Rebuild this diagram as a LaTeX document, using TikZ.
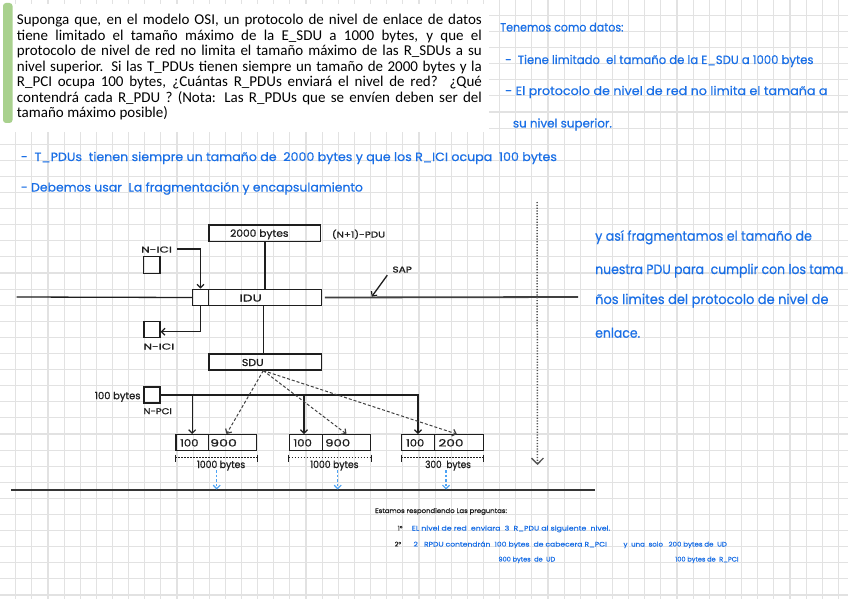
\documentclass[tikz,border=0pt]{standalone}
\usepackage{fontspec}
\setmainfont{Carlito}
\newfontfamily\hand{Poppins}[FakeBold=0.5]
\newfontfamily\handk{Poppins}[FakeBold=0.9]
\usetikzlibrary{arrows.meta}
\definecolor{gridc}{HTML}{E2E2E2}
\definecolor{inkc}{HTML}{1E1E1E}
\definecolor{bluetxt}{HTML}{1A6FE6}
\definecolor{bluearr}{HTML}{4DA3F5}
\definecolor{barc}{HTML}{A9D18E}
\newcommand\fitw[2]{\resizebox{#1pt}{\height}{#2}}
\tikzset{
  gridline/.style={draw=gridc, line width=1.1pt},
  box/.style={draw=inkc, line width=1.3pt, inner sep=0pt, minimum height=16pt},
  lbl/.style={inner sep=0pt, anchor=west, text height=0.7em, text depth=0pt, text=inkc, font=\handk\fontsize{10}{11}\selectfont},
  smlbl/.style={lbl, font=\handk\fontsize{8.5}{10}\selectfont},
  conn/.style={draw=inkc, line width=1.3pt},
  tip/.style={-{Straight Barb[length=3.5pt,width=7pt,line width=1.2pt]}},
  mainline/.style={draw=inkc!85, line width=1.8pt},
  dasharr/.style={draw=inkc!85, line width=1pt, dash pattern=on 3pt off 2pt, tip},
  dimline/.style={draw=inkc, line width=1pt, dash pattern=on 1.5pt off 1.5pt},
  tick/.style={draw=inkc, line width=1pt},
  bluedash/.style={draw=bluearr, line width=1.1pt, dash pattern=on 2.5pt off 2pt, -{Straight Barb[length=3.5pt,width=7pt,line width=1.2pt]}},
  dotarr/.style={draw=inkc!75, line width=1.5pt, dash pattern=on 1.2pt off 1.6pt, -{Straight Barb[length=6pt,width=12pt,line width=1.3pt]}},
  botline/.style={draw=inkc!90, line width=2pt},
  bt/.style={inner sep=0pt, anchor=base west, text=bluetxt, font=\hand\fontsize{12}{14}\selectfont},
  btbig/.style={bt, font=\hand\fontsize{13.5}{16}\selectfont},
  bts/.style={bt, font=\hand\fontsize{6.5}{8}\selectfont},
  kts/.style={bts, text=inkc},
  prob/.style={inner sep=0pt, anchor=base west, text=black, font=\fontsize{15}{15.4}\selectfont}
}
\begin{document}
\begin{tikzpicture}[x=1pt,y=-1pt]
\useasboundingbox (0,0) rectangle (848,599);
\fill[white] (0,0) rectangle (848,599);
% grid
\foreach \i in {0,...,51} \draw[gridline] ({15.7+16.13*\i},0) -- ({15.7+16.13*\i},599);
\foreach \j in {0,...,36} \draw[gridline] (0,{15.4+16.1*\j}) -- (848,{15.4+16.1*\j});

% problem statement box
\fill[white] (0,4) rectangle (489,132);
\fill[barc, rounded corners=3pt] (3,3) rectangle (12.5,123);
\node[prob] (p1) at (16.7,25) {\makebox[465pt][s]{Suponga que, en el modelo OSI, un protocolo de nivel de enlace de datos}};
\node[prob] (p2) at (16.7,40.4) {\makebox[465pt][s]{tiene limitado el tamaño máximo de la E\_SDU a 1000 bytes, y que el}};
\node[prob] (p3) at (16.7,55.9) {\makebox[465pt][s]{protocolo de nivel de red no limita el tamaño máximo de las R\_SDUs a su}};
\node[prob] (p4) at (16.7,71.3) {\makebox[465pt][s]{nivel superior. Si las T\_PDUs tienen siempre un tamaño de 2000 bytes y la}};
\node[prob] (p5) at (16.7,86.8) {\makebox[465pt][s]{R\_PCI ocupa 100 bytes, ¿Cuántas R\_PDUs enviará el nivel de red? ¿Qué}};
\node[prob] (p6) at (16.7,102.2) {\makebox[465pt][s]{contendrá cada R\_PDU ? (Nota: Las R\_PDUs que se envíen deben ser del}};
\node[prob] (p7) at (16.7,117.7) {tamaño máximo posible)};

% blue notes top right
\node[bt] (n1) at (500,31.5) {\fitw{123.3}{Tenemos como datos:}};
\node[bt] (n2) at (505,64) {\fitw{308.3}{-\ \ Tiene limitado\ \ el tamaño de la E\_SDU a 1000 bytes}};
\node[bt] (n3) at (505,95) {\fitw{322.3}{- El protocolo de nivel de red no limita el tamaña a}};
\node[bt] (n4) at (512.7,127.5) {\fitw{99}{su nivel superior.}};
\node[bt] (n5) at (20.7,161) {\fitw{536}{-\ \ T\_PDUs\ \ tienen siempre un tamaño de\ \ 2000 bytes y que los R\_ICI ocupa\ \ 100 bytes}};
\node[bt] (n6) at (20.7,191.5) {\fitw{342}{- Debemos usar\ \ La fragmentación y encapsulamiento}};
\node[btbig] (r1) at (595,240.7) {\fitw{216.7}{y así fragmentamos el tamaño de}};
\node[btbig] (r2) at (595,274) {\fitw{248.3}{nuestra PDU para\ \ cumplir con los tama}};
\node[btbig] (r3) at (595,304) {\fitw{233.3}{ños limites del protocolo de nivel de}};
\node[btbig] (r4) at (595,337.7) {\fitw{45}{enlace.}};

% upper part of diagram
\node[box, minimum width=111.7, minimum height=16.7] (b2000) at (264.9,233.3) {};
\node[lbl] (t2000) at (230,233.3) {\fitw{58.3}{2000 bytes}};
\node[smlbl] (npdu) at (331.7,234) {\fitw{53.3}{(N+1)-PDU}};
\node[box, minimum width=15.6, minimum height=16.4] (idul) at (200.5,297.5) {};
\node[box, minimum width=113.4, minimum height=16.4] (idur) at (265,297.5) {};
\node[lbl] (tidu) at (239.3,298) {\fitw{22.3}{IDU}};
\node[box, minimum width=112.7, minimum height=16] (sdu) at (265.3,362) {};
\node[lbl] (tsdu) at (241.7,362.5) {\fitw{21.7}{SDU}};
\node[box, minimum size=16.7] (icitop) at (151.7,265) {};
\node[smlbl] (icitoplbl) at (141,249) {\fitw{30.7}{N-ICI}};
\node[box, minimum size=16] (icibot) at (152,329.7) {};
\node[smlbl] (icibotlbl) at (143.3,346) {\fitw{30.7}{N-ICI}};
\node[smlbl] (sap) at (392.3,269) {\fitw{19.4}{SAP}};
\coordinate (sapPt) at (371.7,296.7);
\coordinate (Lend) at (16.7,297);
\coordinate (Rend) at (578,297);

\draw[conn] (Lend) -- (idul.west);
\draw[mainline] ([xshift=2.6pt]idur.east) -- (Rend);
\draw[conn] (b2000.south) -- (b2000.south |- idur.north);
\draw[conn] ([xshift=-1.7pt]idur.south) -- ([xshift=-1.7pt]idur.south |- sdu.north);
\draw[conn, tip] ([xshift=5pt]icitoplbl.east) -| (idul.north);
\draw[conn, tip] (idul.south) |- ([yshift=-2pt]icibot.east);
\draw[conn, tip] ([shift={(-5,2.5)}]sap.south west) -- (sapPt);

% lower part
\node[box, minimum size=16] (pci) at (152,395) {};
\node[lbl, anchor=east] (pcisize) at (140.7,395.7) {\fitw{45.7}{100 bytes}};
\node[smlbl] (pcilbl) at (143.3,410.7) {\fitw{28.3}{N-PCI}};

\node[box, minimum width=32.3] (f1a) at (192.15,442.7) {};
\node[box, minimum width=48.4] (f1b) at (232.5,442.7) {};
\node[box, minimum width=33] (f2a) at (305.8,442.7) {};
\node[box, minimum width=48.4] (f2b) at (346.5,442.7) {};
\node[box, minimum width=32.6] (f3a) at (418,442.7) {};
\node[box, minimum width=49] (f3b) at (458.8,442.7) {};
\node[lbl] (x1a) at (180,443) {\fitw{18.3}{100}};
\node[lbl] (x1b) at (210,443) {\fitw{26.7}{900}};
\node[lbl] (x2a) at (293.3,443) {\fitw{18.4}{100}};
\node[lbl] (x2b) at (325,443) {\fitw{25}{900}};
\node[lbl] (x3a) at (406,443) {\fitw{18}{100}};
\node[lbl] (x3b) at (438.3,443) {\fitw{25}{200}};

\draw[conn, tip] (pci.east) -| (f3a.north);
\draw[conn, tip] (f1a.north |- pci.east) -- (f1a.north);
\draw[conn, tip] ([xshift=-1.8pt]f2a.north |- pci.east) -- ([xshift=-1.8pt]f2a.north);

\draw[dasharr] ([xshift=-2pt]sdu.south) -- ([xshift=-6pt]f1b.north);
\draw[dasharr] ([xshift=-2pt]sdu.south) -- (f2b.north);
\draw[dasharr] ([xshift=-2pt]sdu.south) -- ([xshift=-2pt]f3b.north);

% dimension lines
\draw[dimline] ([yshift=-6.6pt]f1a.south west) -- ([yshift=-6.6pt]f1b.south east);
\draw[dimline] ([yshift=-6.6pt]f2a.south west) -- ([yshift=-6.6pt]f2b.south east);
\draw[dimline] ([yshift=-6.6pt]f3a.south west) -- ([yshift=-6.6pt]f3b.south east);
\foreach \c/\a in {f1a/south west, f1b/south east, f2a/south west, f2b/south east, f3a/south west, f3b/south east}
  \draw[tick] ([yshift=-3.3pt]\c.\a) -- ([yshift=-11pt]\c.\a);
\node[lbl] (d1) at (196.7,464.5) {\fitw{48.3}{1000 bytes}};
\node[lbl] (d2) at (310,464.5) {\fitw{48.3}{1000 bytes}};
\node[lbl] (d3) at (425,464.5) {\fitw{45.7}{300\ \ bytes}};

% bottom line and arrows
\coordinate (BL) at (11,489.5);
\coordinate (BR) at (595,489.5);
\draw[botline] (BL) -- (BR);
\coordinate (ba1) at (216.7,470);
\coordinate (ba2) at (337.7,470);
\coordinate (ba3) at (446,470);
\draw[bluedash] (ba1) -- (ba1 |- BL);
\draw[bluedash] (ba2) -- (ba2 |- BL);
\draw[bluedash] (ba3) -- (ba3 |- BL);
\coordinate (dvTop) at (537,202);
\coordinate (dvBot) at (537.5,465);
\draw[dotarr] (dvTop) -- (dvBot);

% answers
\node[kts, font=\handk\fontsize{6.5}{8}\selectfont] (a0) at (375,513) {\fitw{131.7}{Estamos respondiendo Las preguntas:}};
\node[kts] (a1n) at (397.5,530.5) {1°};
\node[bts] (a1) at (411.7,530.5) {\fitw{198.3}{EL nivel de red\ \ enviara\ \ 3\ \ R\_PDU al siguiente\ \ nivel.}};
\node[kts] (a2n) at (394.5,546.5) {2°};
\node[bts] (a2) at (413.3,546.5) {\fitw{193.4}{2\ \ \ RPDU contendrán\ \ 100 bytes\ \ de cabecera R\_PCI}};
\node[bts] (a3) at (623.3,546.5) {\fitw{103.4}{y\ \ una\ \ solo\ \ \ 200 bytes de\ \ UD}};
\node[bts] (a4) at (498.3,561.5) {\fitw{56.7}{900 bytes\ \ de\ \ UD}};
\node[bts] (a5) at (675,561.5) {\fitw{63.3}{100 bytes de\ \ R\_PCI}};
\end{tikzpicture}
\end{document}
